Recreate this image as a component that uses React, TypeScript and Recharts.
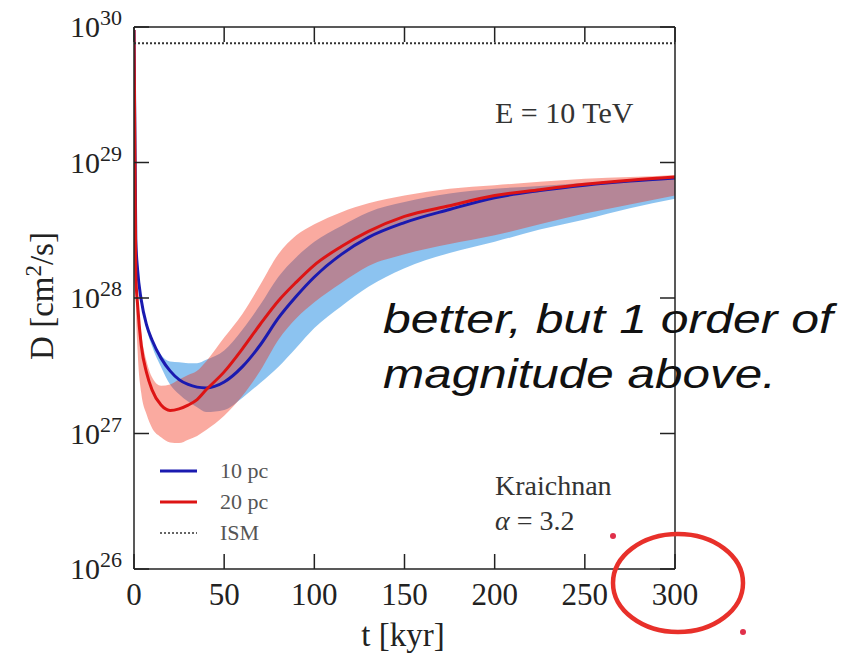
import { ComposedChart, Area, Line, XAxis, YAxis, Legend } from "recharts";

// time after injection [kyr]
const T_KYR = [0, 1, 2, 4, 7, 10, 15, 20, 25, 30, 35, 40, 50, 60, 70, 80, 90, 100, 115, 130, 150, 175, 200, 225, 250, 275, 300];

// diffusion coefficient D [cm^2/s], 10 pc source distance
const D_10PC = [9.5e29, 2.7e28, 1.61e28, 9.7e27, 6.3e27, 4.9e27, 3.6e27, 2.9e27, 2.5e27, 2.3e27, 2.2e27, 2.17e27, 2.4e27, 3.1e27, 4.5e27, 7.1e27, 1.03e28, 1.43e28, 2.1e28, 2.8e28, 3.6e28, 4.5e28, 5.5e28, 6.2e28, 6.8e28, 7.3e28, 7.7e28];
const D_10PC_LO = [9.5e29, 2.5e28, 1.5e28, 9.2e27, 5.9e27, 4.4e27, 3.1e27, 2.3e27, 1.95e27, 1.72e27, 1.56e27, 1.44e27, 1.49e27, 1.83e27, 2.36e27, 3.1e27, 4.3e27, 6.0e27, 8.7e27, 1.21e28, 1.66e28, 2.15e28, 2.6e28, 3.2e28, 3.8e28, 4.6e28, 5.4e28];
const D_10PC_HI = [9.5e29, 2.9e28, 1.7e28, 1.02e28, 6.5e27, 5.0e27, 3.8e27, 3.4e27, 3.35e27, 3.3e27, 3.3e27, 3.5e27, 4.1e27, 5.8e27, 8.9e27, 1.43e28, 2.0e28, 2.6e28, 3.4e28, 4.3e28, 5.1e28, 5.9e28, 6.4e28, 6.7e28, 7.1e28, 7.4e28, 7.8e28];

// 20 pc source distance
const D_20PC = [9.5e29, 1.48e28, 8.9e27, 4.5e27, 2.8e27, 2.1e27, 1.62e27, 1.48e27, 1.52e27, 1.62e27, 1.78e27, 2.1e27, 2.85e27, 4.2e27, 6.4e27, 9.5e27, 1.31e28, 1.75e28, 2.4e28, 3.1e28, 4.0e28, 4.8e28, 5.7e28, 6.3e28, 6.9e28, 7.4e28, 7.8e28];
const D_20PC_LO = [9.5e29, 9.6e27, 4.1e27, 2.0e27, 1.38e27, 1.1e27, 9.4e26, 8.6e26, 8.5e26, 9.0e26, 9.6e26, 1.06e27, 1.35e27, 1.89e27, 2.9e27, 4.9e27, 7.1e27, 9.3e27, 1.29e28, 1.72e28, 2.1e28, 2.5e28, 2.9e28, 3.5e28, 4.2e28, 4.9e28, 5.7e28];
const D_20PC_HI = [9.5e29, 1.75e28, 1.05e28, 5.5e27, 3.4e27, 2.6e27, 2.25e27, 2.3e27, 2.5e27, 2.7e27, 2.9e27, 3.4e27, 5.1e27, 7.6e27, 1.25e28, 2.1e28, 2.9e28, 3.5e28, 4.3e28, 5.0e28, 5.7e28, 6.4e28, 6.8e28, 7.2e28, 7.6e28, 7.8e28, 8.1e28];

// average interstellar value
const D_ISM = 7.6e29;

const X_TICKS = [0, 50, 100, 150, 200, 250, 300];
const Y_TICKS = [1e26, 1e27, 1e28, 1e29, 1e30];

const SERIF = "'Liberation Serif', 'DejaVu Serif', serif";
const SANS = "'Liberation Sans', Arial, sans-serif";
const AXIS = "#222";
const BLUE = "#1a1ab0";
const RED = "#dd1414";
const TICK_LEN = 15;

const rows = T_KYR.map((t, i) => ({
  t,
  d10: D_10PC[i],
  d20: D_20PC[i],
  band10: [D_10PC_LO[i], D_10PC_HI[i]],
  band20: [D_20PC_LO[i], D_20PC_HI[i]],
  ism: D_ISM,
}));

const BottomTick = ({ x, y, payload }: any) => (
  <g>
    <line x1={x} x2={x} y1={y} y2={y - TICK_LEN} stroke={AXIS} strokeWidth={1.5} />
    <text x={x} y={y + 36} textAnchor="middle" fontFamily={SERIF} fontSize={31} fill={AXIS}>
      {payload.value}
    </text>
  </g>
);

const TopTick = ({ x, y }: any) => (
  <line x1={x} x2={x} y1={y} y2={y + TICK_LEN} stroke={AXIS} strokeWidth={1.5} />
);

const LeftTick = ({ x, y, payload }: any) => {
  const exp = Math.round(Math.log10(payload.value));
  return (
    <g>
      <line x1={x} x2={x + TICK_LEN} y1={y} y2={y} stroke={AXIS} strokeWidth={1.5} />
      <text x={x - 12} y={y + 10} textAnchor="end" fontFamily={SERIF} fontSize={30} fill={AXIS}>
        10
        <tspan dy={-12} fontSize={22}>
          {exp}
        </tspan>
      </text>
    </g>
  );
};

const RightTick = ({ x, y }: any) => (
  <line x1={x} x2={x - TICK_LEN} y1={y} y2={y} stroke={AXIS} strokeWidth={1.5} />
);

const renderLegend = (props: any) => {
  const items = (props.payload || []).filter((p: any) => p.type !== "none");
  return (
    <div style={{ fontFamily: SERIF, fontSize: 22, color: "#555" }}>
      {items.map((p: any) => (
        <div key={p.value} style={{ display: "flex", alignItems: "center", height: 31 }}>
          <svg width={40} height={10}>
            <line
              x1={2}
              x2={39}
              y1={5}
              y2={5}
              stroke={p.color}
              strokeWidth={p.payload?.strokeDasharray ? 1.5 : 3}
              strokeDasharray={p.payload?.strokeDasharray}
            />
          </svg>
          <span style={{ marginLeft: 22 }}>{p.value}</span>
        </div>
      ))}
    </div>
  );
};

export default function App() {
  return (
    <div style={{ position: "fixed", left: 0, top: 0, width: 853, height: 658, background: "#fff" }}>
      <ComposedChart
        width={853}
        height={658}
        data={rows}
        margin={{ top: 17, right: 168, bottom: 49, left: 74 }}
      >
        <XAxis
          xAxisId="b"
          dataKey="t"
          type="number"
          domain={[0, 300]}
          ticks={X_TICKS}
          interval={0}
          tick={BottomTick}
          tickLine={false}
          tickSize={0}
          tickMargin={0}
          height={40}
          axisLine={{ stroke: AXIS, strokeWidth: 1.5 }}
          allowDataOverflow
        />
        <XAxis
          xAxisId="top"
          orientation="top"
          dataKey="t"
          type="number"
          domain={[0, 300]}
          ticks={X_TICKS}
          interval={0}
          tick={TopTick}
          tickLine={false}
          tickSize={0}
          tickMargin={0}
          height={10}
          axisLine={{ stroke: AXIS, strokeWidth: 1.5 }}
          allowDataOverflow
        />
        <YAxis
          yAxisId="l"
          type="number"
          scale="log"
          domain={[1e26, 1e30]}
          ticks={Y_TICKS}
          interval={0}
          tick={LeftTick}
          tickLine={false}
          tickSize={0}
          tickMargin={0}
          width={60}
          axisLine={{ stroke: AXIS, strokeWidth: 1.5 }}
          allowDataOverflow
        />
        <YAxis
          yAxisId="r"
          orientation="right"
          type="number"
          scale="log"
          domain={[1e26, 1e30]}
          ticks={Y_TICKS}
          interval={0}
          tick={RightTick}
          tickLine={false}
          tickSize={0}
          tickMargin={0}
          width={10}
          axisLine={{ stroke: AXIS, strokeWidth: 1.5 }}
          allowDataOverflow
        />

        <Area
          xAxisId="b"
          yAxisId="l"
          dataKey="band10"
          type="monotone"
          stroke="none"
          fill="#1987e1"
          fillOpacity={0.5}
          legendType="none"
          activeDot={false}
          isAnimationActive={false}
        />
        <Area
          xAxisId="b"
          yAxisId="l"
          dataKey="band20"
          type="monotone"
          stroke="none"
          fill="#f22a11"
          fillOpacity={0.4}
          legendType="none"
          activeDot={false}
          isAnimationActive={false}
        />
        <Line
          xAxisId="b"
          yAxisId="l"
          dataKey="d10"
          name="10 pc"
          type="monotone"
          stroke={BLUE}
          strokeWidth={3}
          dot={false}
          activeDot={false}
          isAnimationActive={false}
        />
        <Line
          xAxisId="b"
          yAxisId="l"
          dataKey="d20"
          name="20 pc"
          type="monotone"
          stroke={RED}
          strokeWidth={3}
          dot={false}
          activeDot={false}
          isAnimationActive={false}
        />
        <Line
          xAxisId="b"
          yAxisId="l"
          dataKey="ism"
          name="ISM"
          type="linear"
          stroke="#333"
          strokeWidth={2}
          strokeDasharray="2 2"
          dot={false}
          activeDot={false}
          isAnimationActive={false}
        />

        <Legend
          layout="vertical"
          align="center"
          verticalAlign="middle"
          content={renderLegend}
          wrapperStyle={{ left: 158, top: 455, width: "auto" }}
        />
      </ComposedChart>

      <svg
        width={853}
        height={658}
        style={{ position: "absolute", left: 0, top: 0, pointerEvents: "none" }}
      >
        <text x={495} y={123} fontFamily={SERIF} fontSize={30} fill="#333">
          E = 10 TeV
        </text>
        <text x={495} y={495} fontFamily={SERIF} fontSize={28} fill="#333">
          Kraichnan
        </text>
        <text x={495} y={530} fontFamily={SERIF} fontSize={28} fill="#333">
          <tspan fontStyle="italic">α</tspan> = 3.2
        </text>

        <text x={403} y={646} textAnchor="middle" fontFamily={SERIF} fontSize={33} fill={AXIS}>
          t [kyr]
        </text>
        <text
          transform="translate(53, 296) rotate(-90)"
          textAnchor="middle"
          fontFamily={SERIF}
          fontSize={33}
          fill={AXIS}
        >
          D [cm
          <tspan dy={-12} fontSize={23}>
            2
          </tspan>
          <tspan dy={12}>/s]</tspan>
        </text>

        <text
          x={383}
          y={333}
          fontFamily={SANS}
          fontStyle="italic"
          fontSize={40}
          fill="#111"
          textLength={450}
          lengthAdjust="spacingAndGlyphs"
        >
          better, but 1 order of
        </text>
        <text
          x={383}
          y={388}
          fontFamily={SANS}
          fontStyle="italic"
          fontSize={40}
          fill="#111"
          textLength={393}
          lengthAdjust="spacingAndGlyphs"
        >
          magnitude above.
        </text>

        <ellipse cx={678} cy={583} rx={65} ry={49} fill="none" stroke="#e8302a" strokeWidth={4.5} />
        <circle cx={613} cy={536} r={3} fill="#e0304a" />
        <circle cx={743} cy={632} r={3} fill="#e0304a" />
      </svg>
    </div>
  );
}
